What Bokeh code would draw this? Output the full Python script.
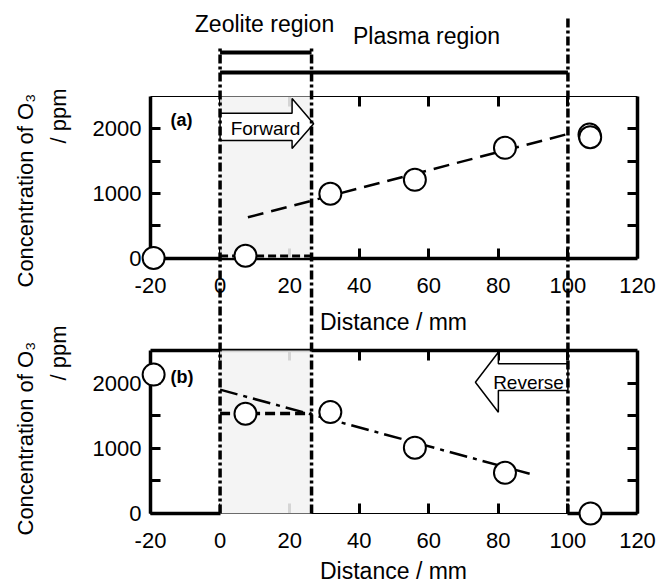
from math import pi
from bokeh.plotting import figure
from bokeh.models import Range1d, LinearAxis, FixedTicker, Label
from bokeh.embed import file_html
from bokeh.resources import INLINE

# ---------------- data ----------------
x_ticks = [-20, 0, 20, 40, 60, 80, 100, 120]
y_ticks = [0, 1000, 2000]
y_minor = [500, 1500]
zeolite_region = [0, 26.3]          # mm
plasma_region = [0, 100]            # mm

# (a) Forward flow
fwd_x = [-19.1, 7.3, 31.7, 56.0, 81.9, 106.2, 106.4]
fwd_y = [0, 35, 995, 1210, 1705, 1910, 1870]
fwd_fit_x = [8, 100]
fwd_fit_y = [630, 1920]
fwd_zeo_x = [0, 26.3]
fwd_zeo_y = [30, 30]

# (b) Reverse flow
rev_x = [-19.1, 7.3, 31.7, 56.0, 81.9, 106.5]
rev_y = [2130, 1530, 1555, 1010, 625, 0]
rev_fit_x = [0, 89]
rev_fit_y = [1900, 610]
rev_zeo_x = [0, 26.3]
rev_zeo_y = [1535, 1535]

# ---------------- layout ----------------
FONT = "Liberation Sans"
W, H = 659, 587
LEFT_PX, RIGHT_PX = 150, 637
A_TOP, A_BOT = 96, 257.5
B_TOP, B_BOT = 350, 513
X_MIN, X_MAX = -20, 120
Y_MAX = 2500


def X(px):
    return X_MIN + (px - LEFT_PX) * (X_MAX - X_MIN) / (RIGHT_PX - LEFT_PX)


def YA(py):
    return (A_BOT - py) * Y_MAX / (A_BOT - A_TOP)


def YB(py):
    return (B_BOT - py) * Y_MAX / (B_BOT - B_TOP)


p = figure(width=W, height=H, output_backend="svg", toolbar_location=None,
           x_range=Range1d(X(0), X(W)), y_range=Range1d(YB(H), YB(0)),
           x_axis_type=None, y_axis_type=None, min_border=0,
           outline_line_color=None, background_fill_color="white",
           border_fill_color="white")
p.extra_y_ranges = {"a": Range1d(YA(H), YA(0))}

minus_fix = {t: str(t) for t in x_ticks}


def mk_axis(rname, loc, bounds, major, minor, lw=3.5, standoff=8):
    ax = LinearAxis(fixed_location=loc, bounds=bounds, y_range_name=rname,
                    ticker=FixedTicker(ticks=major, minor_ticks=minor))
    ax.axis_line_width = lw
    ax.axis_line_color = "black"
    ax.major_tick_in = 10
    ax.major_tick_out = 0
    ax.major_tick_line_width = 3
    ax.minor_tick_in = 10
    ax.minor_tick_out = 0
    ax.minor_tick_line_width = 3
    ax.major_label_text_font = FONT
    ax.major_label_text_font_size = "22px"
    ax.major_label_text_color = "black"
    ax.major_label_standoff = standoff
    ax.major_label_overrides = minus_fix
    return ax


for rname in ["a", "default"]:
    # left axis with labels
    p.add_layout(mk_axis(rname, X_MIN, (0, Y_MAX), y_ticks, y_minor, standoff=9), "left")
    # right frame side with inward ticks
    p.add_layout(mk_axis(rname, X_MAX, (0, Y_MAX), [], y_minor + y_ticks[1:]), "right")

# panel (a): bottom axis with labels, thin top frame with ticks
p.add_layout(mk_axis("a", 0, (X_MIN, X_MAX), x_ticks, [], standoff=20), "below")
p.add_layout(mk_axis("a", Y_MAX, (X_MIN, X_MAX), [], x_ticks[1:-1], lw=1.2), "above")
# panel (b): thin bottom axis with labels + thick outer parts, thick top frame
p.add_layout(mk_axis("default", 0, (X_MIN, X_MAX), x_ticks, [], lw=1.2, standoff=19), "below")
p.add_layout(mk_axis("default", 0, (X_MIN, 0), [], []), "below")
p.add_layout(mk_axis("default", 0, (100, X_MAX), [], []), "below")
p.add_layout(mk_axis("default", Y_MAX, (X_MIN, X_MAX), [], x_ticks[1:-1]), "above")

# zeolite shading
for rname in ["a", "default"]:
    p.quad(left=[zeolite_region[0]], right=[zeolite_region[1]], bottom=[0], top=[Y_MAX],
           y_range_name=rname, fill_color="#f3f3f3", fill_alpha=0.88, line_color=None,
           level="overlay")

# flow arrows
p.patch([0, 20.7, 20.7, 26.9, 20.7, 20.7, 0],
        [YA(112.7), YA(112.7), YA(98), YA(123.3), YA(148), YA(140), YA(140)],
        y_range_name="a", fill_color="white", line_color="black", line_width=1.5,
        level="overlay")
p.patch([100, 80, 80, 73.4, 80, 80, 100],
        [YB(363.3), YB(363.3), YB(351.7), YB(381.7), YB(411.7), YB(390), YB(390)],
        fill_color="white", line_color="black", line_width=1.5, level="overlay")

# region brackets
p.segment(x0=[zeolite_region[0], plasma_region[0]], x1=[zeolite_region[1], plasma_region[1]],
          y0=[YA(52), YA(72)], y1=[YA(52), YA(72)], y_range_name="a",
          line_color="black", line_width=4, level="overlay")

# region boundaries (dash-dot)
bx = [zeolite_region[0], zeolite_region[1], plasma_region[1]]
p.segment(x0=bx, x1=bx, y0=[0, 0, 0], y1=[YB(45), YB(45), YB(15)],
          line_color="black", line_width=3.5, line_dash="9 3 3 3", level="overlay")

# data (a)
p.line(fwd_fit_x, fwd_fit_y, y_range_name="a", line_color="black", line_width=2.5,
       line_dash="16 8", level="overlay")
p.line(fwd_zeo_x, fwd_zeo_y, y_range_name="a", line_color="black", line_width=3,
       line_dash="8 4", level="overlay")
p.scatter(fwd_x, fwd_y, y_range_name="a", marker="circle", size=22, fill_color="white",
          line_color="black", line_width=2, level="overlay")

# data (b)
p.line(rev_fit_x, rev_fit_y, line_color="black", line_width=2.5,
       line_dash="18 6 4 6", level="overlay")
p.line(rev_zeo_x, rev_zeo_y, line_color="black", line_width=3.5,
       line_dash="10 5", level="overlay")
p.scatter(rev_x, rev_y, marker="circle", size=22, fill_color="white",
          line_color="black", line_width=2, level="overlay")


def lab(px, py, text, size, rname="default", align="left", rotated=False,
        style="normal", shift=None):
    f = YA if rname == "a" else YB
    if shift is None:
        shift = 0.36 * size
    if rotated:
        x, y, angle = X(px - shift), f(py), pi / 2
    else:
        x, y, angle = X(px), f(py - shift), 0
    p.add_layout(Label(x=x, y=y, text=text, y_range_name=rname, text_font=FONT,
                       text_font_size=f"{size}px", text_align=align,
                       text_baseline="alphabetic", angle=angle, text_color="black",
                       text_font_style=style, level="overlay"))


lab(264, 32, "Zeolite region", 23, "a", "center")
lab(426, 44, "Plasma region", 23, "a", "center")
lab(265, 135, "Forward", 19, "a", "center")
lab(528, 389, "Reverse", 19, "default", "center")
lab(170, 126, "(a)", 18, "a", "left", style="bold")
lab(170, 383, "(b)", 18, "default", "left", style="bold")
lab(393, 330, "Distance / mm", 23, "a", "center")
lab(393, 579, "Distance / mm", 23, "default", "center")
for rname, yb, yp in [("a", 287, 143), ("default", 535, 380)]:
    lab(37, yb, "Concentration of O\u2083", 22, rname, "left", rotated=True, shift=12)
    lab(64, yp, "/ ppm", 22, rname, "left", rotated=True, shift=6)

open("out.html", "w").write(file_html(p, INLINE))
